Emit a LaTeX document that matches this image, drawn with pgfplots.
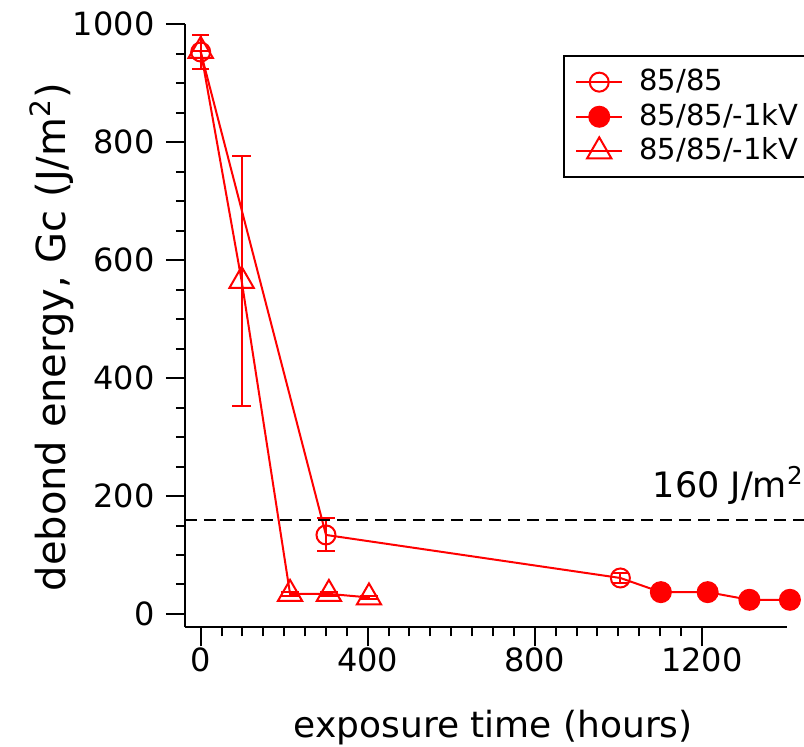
\documentclass[border=0pt]{standalone}
\usepackage{pgfplots}
\pgfplotsset{compat=1.18}
\usepackage{fontspec}
\setmainfont{DejaVu Sans}
\begin{document}
\begin{tikzpicture}
\begin{axis}[
  at={(0,0)}, anchor=south west,
  scale only axis, width=301pt, height=301.5pt,
  xmin=-37.6, xmax=1404, ymin=-22.6, ymax=1000,
  axis lines=left,
  axis line style={-, line width=1pt, black},
  tick align=outside,
  xtick={0,400,800,1200}, minor x tick num=7,
  ytick={0,200,400,600,800,1000}, minor y tick num=3,
  major tick length=9.5pt, minor tick length=4.5pt,
  every tick/.style={black, line width=1pt},
  tick label style={font=\fontsize{16}{19}\selectfont},
  yticklabel style={inner sep=0pt, anchor=east, xshift=-5.6pt},
  xticklabel style={inner sep=0pt, anchor=north, yshift=-0.5pt},
  /pgf/number format/assume math mode=true,
  /pgf/number format/1000 sep={},
  scaled ticks=false,
  clip=false,
  xlabel={exposure time (hours)},
  ylabel={debond energy, Gc (J/m\textsuperscript{2})},
  xlabel style={at={(axis description cs:0.512,-0.1836)}, anchor=base, font=\fontsize{18}{21}\selectfont, inner sep=0pt},
  ylabel style={at={(axis description cs:-0.1977,0.481)}, anchor=base, font=\fontsize{20}{23}\selectfont, inner sep=0pt},
  legend style={at={(axis description cs:0.628,0.949)}, anchor=north west,
    draw=black, line width=1pt, inner xsep=5.6pt, inner ysep=4.4pt,
    font=\fontsize{14.5}{18}\selectfont,
    nodes={inner sep=1.4pt, text height=11.5pt, text depth=3pt},
    column sep=6.7pt, row sep=0pt},
  legend cell align=left,
  legend image code/.code={\draw[mark repeat=2,mark phase=2,#1] plot coordinates {(0pt,0pt) (11.5pt,0pt) (23pt,0pt)};},
]
% 85/85 open circles
\addplot[red, line width=1pt, mark=o, mark size=4.75pt, mark options={solid, line width=1pt},
  error bars/.cd, y dir=both, y explicit,
  error bar style={line width=1pt},
  error mark options={rotate=90, mark size=4.3pt, line width=1pt}]
  coordinates {(0,953) +- (0,28) (300,134) +- (0,28) (1005,61) +- (0,8)};
\addlegendentry{85/85}
% 85/85/-1kV filled circles
\addplot[red, line width=1pt, mark=*, mark size=5pt, mark options={solid, fill=red},
  error bars/.cd, y dir=both, y explicit,
  error bar style={line width=1pt},
  error mark options={rotate=90, mark size=4.3pt, line width=1pt}]
  coordinates {(1102,37) +- (0,4) (1214,37) +- (0,4) (1314,24) +- (0,4) (1411,24) +- (0,4)};
\addlegendentry{85/85/-1kV\hphantom{00000}}
% 85/85/-1kV triangles
\addplot[red, line width=1pt, mark=triangle, mark size=7pt, mark options={solid, line width=1pt},
  error bars/.cd, y dir=both, y explicit,
  error bar style={line width=1pt},
  error mark options={rotate=90, mark size=4.6pt, line width=1pt}]
  coordinates {(0,955) +- (0,0) (98,565) +- (0,212) (214,34) +- (0,4) (307,34) +- (0,4) (403,28) +- (0,3)};
\addlegendentry{85/85/-1kV\hphantom{00000}}
% connector between last open circle and first filled circle
\addplot[red, line width=1pt, forget plot] coordinates {(1005,61) (1102,37)};
% 160 J/m^2 threshold
\addplot[black, line width=1pt, dash pattern=on 6pt off 3.5pt, forget plot] coordinates {(-37.6,160) (1470,160)};
\node[anchor=base east, inner sep=0pt, font=\fontsize{17.5}{20}\selectfont] at (axis cs:1445,198) {160 J/m\textsuperscript{2}};
\end{axis}
\pgfresetboundingbox
\path (-92.5pt,-59.85pt) rectangle (309.5pt,313.65pt);
\end{tikzpicture}
\end{document}
